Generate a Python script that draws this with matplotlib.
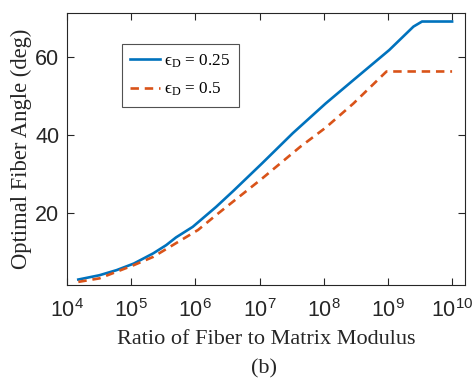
import matplotlib
matplotlib.use('Agg')
import matplotlib.pyplot as plt
import numpy as np

# ratio of fiber to matrix modulus
ratio_a = [1.5e4, 3.2e4, 5.9e4, 1.1e5, 2.2e5, 3.5e5, 5.0e5, 9.1e5, 2.1e6, 3.9e6,
           1.1e7, 3.3e7, 1.07e8, 2.9e8, 1.05e9, 2.5e9, 3.4e9, 1.0e10]
angle_a = [2.9, 4.0, 5.3, 7.0, 9.6, 11.7, 13.7, 16.4, 21.5, 25.6,
           32.7, 40.4, 48.0, 54.0, 61.7, 67.7, 69.0, 69.0]

ratio_b = [1.5e4, 3.2e4, 1.1e5, 2.2e5, 1.1e6, 2.1e6, 1.1e7, 4.3e7, 1.07e8, 2.9e8,
           9.5e8, 1.0e10]
angle_b = [2.3, 3.2, 6.6, 8.7, 15.6, 19.4, 28.8, 36.9, 41.8, 48.0,
           56.2, 56.2]

labels = ['ϵ$_{\\mathregular{D}}$ = 0.25', 'ϵ$_{\\mathregular{D}}$ = 0.5']
xticks = [1e4, 1e5, 1e6, 1e7, 1e8, 1e9, 1e10]
xticklabels = ['$\\mathregular{10^{%d}}$' % k for k in range(4, 11)]

plt.rcParams['mathtext.fontset'] = 'stix'

fig = plt.figure(figsize=(4.72, 3.80), dpi=100)
ax = fig.add_axes([0.142, 0.25, 0.843, 0.717])

ax.plot(ratio_a, angle_a, color='#0072BD', lw=1.9, label=labels[0])
ax.plot(ratio_b, angle_b, color='#D95319', lw=1.9, ls=(0, (3.2, 2.2)), label=labels[1])

ax.set_xscale('log')
ax.set_xlim(1e4, 10**10.2)
ax.set_ylim(1.5, 71.3)
ax.set_xticks(xticks)
ax.set_xticklabels(xticklabels)
ax.set_yticks([20, 40, 60])

for s in ax.spines.values():
    s.set_color('#262626')
    s.set_linewidth(0.8)
ax.tick_params(which='both', direction='in', top=True, right=True, colors='#262626')
ax.tick_params(which='major', length=5, labelsize=15.5)
ax.tick_params(which='minor', length=2.5)
ax.tick_params(axis='x', pad=10)
ax.tick_params(axis='y', pad=5.5)
for t in ax.get_xticklabels() + ax.get_yticklabels():
    t.set_family('Liberation Sans')

ax.set_xlabel('Ratio of Fiber to Matrix Modulus', family='Liberation Serif',
              fontsize=16, color='#262626', labelpad=6)
ax.set_ylabel('Optimal Fiber Angle (deg)', family='Liberation Serif',
              fontsize=16.3, color='#262626', labelpad=2)

leg = ax.legend(loc='upper left', bbox_to_anchor=(0.138, 0.885),
                prop={'family': ['Liberation Serif', 'DejaVu Serif'], 'size': 12.3},
                frameon=True, fancybox=False, handlelength=1.75, handletextpad=0.2,
                borderpad=0.5, labelspacing=0.65, borderaxespad=0)
leg.get_frame().set_edgecolor('#262626')
leg.get_frame().set_linewidth(0.8)

fig.text(0.56, 0.005, '(b)', family='Liberation Serif', fontsize=16,
         ha='center', va='bottom', color='#262626')

fig.savefig('out.png', dpi=100)
